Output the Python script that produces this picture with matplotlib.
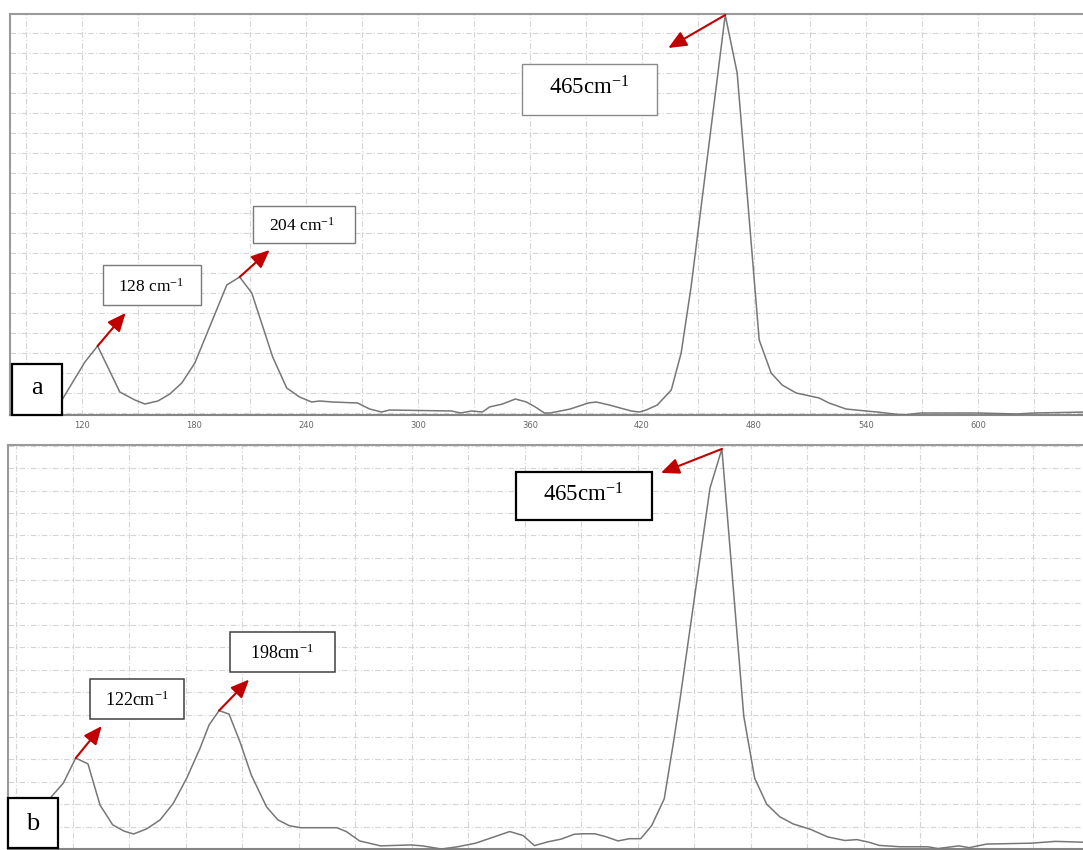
import numpy as np
import matplotlib
matplotlib.use("Agg")
import matplotlib.pyplot as plt
from matplotlib.patches import Rectangle
from matplotlib.transforms import offset_copy

plt.rcParams["mathtext.fontset"] = "custom"
plt.rcParams["mathtext.rm"] = "Liberation Serif"
plt.rcParams["mathtext.it"] = "Liberation Serif:italic"

# ---------------- data ----------------
# panel a: Raman shift (cm-1) and relative intensity
wn_a = [104, 109.3, 121.6, 128.4, 140.3, 148.4, 153.7, 160.7, 167.1, 173.5,
        180.5, 197.6, 204.5, 211.0, 222.2, 229.7, 236.6, 243.1, 247.3, 254.3,
        267.7, 274.1, 280.5, 284.8, 318.0, 322.8, 328.7, 334.6, 338.3, 345.3,
        352.2, 358.1, 362.9, 367.7, 370.9, 381.6, 391.3, 395.5, 402.5, 414.3,
        418.6, 422.3, 428.2, 435.7, 441.0, 446.3, 464.6, 471.0, 482.8, 489.2,
        495.1, 502.6, 514.9, 520.2, 529.3, 540.0, 545.9, 559.8, 569.4, 599.9,
        620.8, 629.9, 659]
int_a = [0.5, 3.25, 12.75, 16.75, 5.25, 3.25, 2.25, 3.0, 4.75, 7.5,
         12.5, 32.0, 34.0, 30.0, 14.0, 6.25, 4.0, 2.75, 3.0, 2.75,
         2.5, 1.0, 0.25, 0.75, 0.5, 0.0, 0.5, 0.25, 1.5, 2.25,
         3.5, 2.75, 1.5, 0.0, 0.0, 1.0, 2.5, 2.75, 2.0, 0.5,
         0.25, 0.75, 2.0, 5.75, 15.0, 31.5, 99.5, 85.0, 18.25, 10.0,
         7.0, 5.0, 3.75, 2.5, 1.0, 0.5, 0.25, -0.5, 0.0, 0.0,
         -0.25, 0.0, 0.25]

# panel b
wn_b = [100, 107.9, 115.0, 121.6, 128.1, 134.5, 141.2, 147.2, 152.3, 159.3,
        166.4, 173.4, 180.5, 187.6, 192.4, 197.7, 203.0, 208.8, 214.8, 222.9,
        228.9, 235.0, 241.0, 260.2, 265.2, 272.3, 283.4, 299.5, 305.6, 315.7,
        323.7, 333.9, 344.0, 352.0, 359.1, 365.1, 372.2, 379.2, 386.3, 390.7,
        397.1, 402.6, 409.5, 415.5, 421.5, 427.3, 434.0, 439.2, 442.4, 458.3,
        464.6, 476.2, 482.0, 488.4, 495.3, 502.4, 511.6, 520.7, 529.9, 536.3,
        542.7, 548.2, 559.2, 573.9, 579.3, 590.4, 595.9, 605.1, 628.8, 641.7,
        658]
int_b = [5.0, 11.3, 14.7, 20.3, 19.0, 9.8, 5.4, 4.0, 3.35, 4.5,
         6.5, 10.2, 15.8, 22.5, 27.7, 30.9, 30.1, 23.9, 16.5, 9.4,
         6.5, 5.2, 4.75, 4.75, 3.9, 1.8, 0.7, 0.9, 0.7, 0.0,
         0.45, 1.3, 2.75, 3.9, 3.0, 0.75, 1.6, 2.2, 3.3, 3.4,
         3.4, 2.8, 1.8, 2.3, 2.3, 5.2, 11.2, 24.6, 33.5, 80.6,
         89.3, 29.7, 15.8, 10.0, 7.2, 5.6, 4.4, 2.7, 1.9, 2.1,
         1.5, 0.8, 0.5, 0.5, 0.1, 0.7, 0.3, 1.1, 1.3, 1.7,
         1.5]

peaks_a = [128, 204, 465]
labels_a = ["128 cm$^{\\mathrm{-1}}$", "204 cm$^{\\mathrm{-1}}$", "465cm$^{\\mathrm{-1}}$"]
peaks_b = [122, 198, 465]
labels_b = ["122cm$^{\\mathrm{-1}}$", "198cm$^{\\mathrm{-1}}$", "465cm$^{\\mathrm{-1}}$"]

major_ticks = [120, 180, 240, 300, 360, 420, 480, 540, 600, 660]
tick_labels = ["120", "180", "240", "300", "360", "420", "480", "540", "600", ""]

# ---------------- layout ----------------
W, H = 1083, 850
fig = plt.figure(figsize=(W / 100, H / 100), dpi=100)


def fr(x0, y0, x1, y1):
    return [x0 / W, 1 - y1 / H, (x1 - x0) / W, (y1 - y0) / H]


ax_a = fig.add_axes(fr(10, 14, 1090, 415))
ax_b = fig.add_axes(fr(8, 445, 1090, 849))

GRID = dict(color="#d4d4d4", lw=0.8, ls=(0, (5, 2, 1, 2)))


def style(ax, xlim, ylim, show_labels, ticklen):
    ax.set_xlim(*xlim)
    ax.set_ylim(*ylim)
    ax.set_xticks(major_ticks)
    ax.set_xticks(np.arange(90, 661, 30), minor=True)
    ax.set_yticks(np.arange(0, ylim[1], 5))
    ax.set_yticklabels([])
    ax.tick_params(axis="y", length=0)
    ax.tick_params(axis="x", which="major", length=ticklen, color="#888888",
                   labelsize=6, labelcolor="#666666", pad=4)
    ax.tick_params(axis="x", which="minor", length=0)
    if show_labels:
        ax.set_xticklabels(tick_labels)
    else:
        ax.set_xticklabels([])
    ax.grid(True, which="both", axis="x", **GRID)
    ax.grid(True, which="major", axis="y", **GRID)
    ax.set_axisbelow(True)
    for s in ["top", "left"]:
        ax.spines[s].set_color("#9a9a9a")
        ax.spines[s].set_linewidth(1.5)
    ax.spines["bottom"].set_color("#858585")
    ax.spines["bottom"].set_linewidth(1.5)
    ax.spines["right"].set_visible(False)


style(ax_a, (81.48, 659.3), (-0.5, 99.75), True, 0)
style(ax_b, (85.65, 657.5), (0, 90.18), False, 4)

ax_a.plot(wn_a, int_a, color="#777777", lw=1.1, zorder=3)
ax_b.plot(wn_b, int_b, color="#777777", lw=1.1, zorder=3)


def local_peak(wn, iv, p):
    wn = np.asarray(wn)
    iv = np.asarray(iv)
    m = np.abs(wn - p) <= 3.5
    i = np.argmax(np.where(m, iv, -1e9))
    return wn[i], iv[i]


def arrow(ax, wn, iv, p, dx, dy):
    pw, pv = local_peak(wn, iv, p)
    tr = offset_copy(ax.transData, fig=fig, x=dx, y=dy, units="dots")
    ax.annotate("", xy=(pw, pv), xycoords=tr, xytext=(pw, pv), textcoords="data",
                arrowprops=dict(arrowstyle="-|>,head_length=0.55,head_width=0.24",
                                color="#c00000", lw=1.5, shrinkA=0, shrinkB=0,
                                mutation_scale=20),
                zorder=4, annotation_clip=False)


def box(x0, y0, x1, y1, ec, lw, text, cx, cy, size):
    fig.add_artist(Rectangle((x0 / W, 1 - y1 / H), (x1 - x0) / W, (y1 - y0) / H,
                             transform=fig.transFigure, fc="white", ec=ec, lw=lw,
                             zorder=5))
    fig.text(cx / W, 1 - cy / H, text, ha="center", va="center", fontsize=size,
             family="Liberation Serif", color="black", zorder=6)


# arrows (pixel offsets: x right, y up)
arrow(ax_a, wn_a, int_a, peaks_a[0], 28, 33)
arrow(ax_a, wn_a, int_a, peaks_a[1], 30, 27)
arrow(ax_a, wn_a, int_a, peaks_a[2], -57, -33)
arrow(ax_b, wn_b, int_b, peaks_b[0], 26, 32)
arrow(ax_b, wn_b, int_b, peaks_b[1], 30, 31)
arrow(ax_b, wn_b, int_b, peaks_b[2], -61, -24)

# label boxes, panel a
box(103, 265, 201, 305, "#7a7a7a", 1.0, labels_a[0], 151, 287, 12.5)
box(253, 206, 355, 243, "#7a7a7a", 1.0, labels_a[1], 302, 226, 12.5)
box(522, 64, 657, 115, "#8a8a8a", 1.0, labels_a[2], 589, 88, 16.5)
box(12, 364, 62, 415, "black", 1.6, "a", 37, 388, 19)

# label boxes, panel b
box(90, 679, 184, 719, "#404040", 1.1, labels_b[0], 137, 700, 13)
box(230, 632, 335, 672, "#404040", 1.1, labels_b[1], 282, 653, 13)
box(516, 472, 652, 520, "black", 1.6, labels_b[2], 583, 495, 16.5)
box(8, 798, 58, 848, "black", 1.6, "b", 33, 824, 19)

fig.savefig("out.png", dpi=100)
